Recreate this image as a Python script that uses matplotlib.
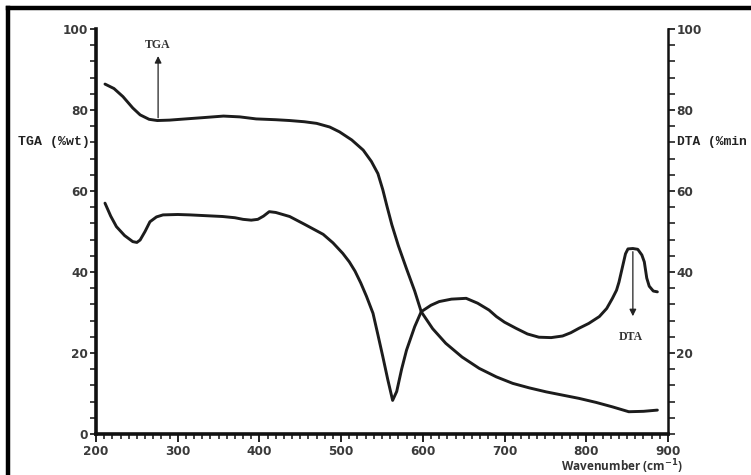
import matplotlib
matplotlib.use("Agg")
import matplotlib.pyplot as plt
from matplotlib.ticker import MultipleLocator, FixedLocator
from matplotlib.lines import Line2D

# ---- data ----
tga_x = [211, 222, 233, 245, 254, 265, 275, 290, 303, 330, 356, 376, 396, 420, 437,
         455, 470, 486, 498, 513, 527, 537, 545, 551, 556, 562, 570, 580, 590, 598, 612,
         628, 648, 669, 690, 710, 730, 751, 771, 791, 812, 832, 852, 870, 887]
tga_y = [86.4, 85.3, 83.3, 80.5, 78.8, 77.7, 77.4, 77.5, 77.7, 78.1, 78.5, 78.3, 77.8, 77.6, 77.4,
         77.1, 76.7, 75.8, 74.6, 72.6, 70.1, 67.3, 64.3, 60.3, 56.3, 51.7, 46.5, 40.8, 35.3, 30.2, 26.0,
         22.4, 19.0, 16.2, 14.1, 12.5, 11.4, 10.4, 9.6, 8.8, 7.8, 6.7, 5.5, 5.6, 5.9]

dta_x = [211, 218, 225, 235, 245, 250, 254, 260, 266, 274, 282, 300, 315, 335, 355,
         370, 380, 390, 398, 405, 412, 420, 437, 455, 478, 490, 502, 510, 517, 524, 531,
         539, 545, 551, 557, 563, 568, 574, 580, 590, 598, 610, 620, 635, 653, 667,
         681, 690, 700, 714, 728, 742, 757, 771, 781, 791, 803, 816, 825, 832, 837,
         840, 844, 848, 851, 857, 863, 868, 871, 874, 877, 882, 887]
dta_y = [57.0, 53.8, 51.2, 49.0, 47.5, 47.3, 47.9, 50.0, 52.4, 53.6, 54.1, 54.2, 54.1, 53.9, 53.7,
         53.4, 53.0, 52.8, 53.0, 53.8, 54.9, 54.7, 53.7, 51.8, 49.3, 47.2, 44.6, 42.5, 40.2, 37.3, 34.0,
         29.8, 24.5, 19.1, 13.5, 8.3, 10.5, 16.0, 20.7, 26.5, 30.2, 31.8, 32.7, 33.3, 33.5, 32.3,
         30.6, 29.0, 27.6, 26.1, 24.7, 23.9, 23.8, 24.2, 25.0, 26.1, 27.3, 29.0, 31.0, 33.5, 35.5,
         37.5, 41.0, 44.5, 45.7, 45.8, 45.6, 44.2, 42.5, 38.5, 36.5, 35.3, 35.1]

x_ticks = [200, 300, 400, 500, 600, 700, 800, 900]
left_ticks = [0, 20, 40, 60, 80, 100]
right_ticks = [20, 40, 60, 80, 100]

W, H = 751, 475
fig = plt.figure(figsize=(W / 100, H / 100), dpi=100)
L, R, B, T = 96, 668, 434, 29
ax = fig.add_axes([L / W, 1 - B / H, (R - L) / W, (B - T) / H])

line_col = "#1c1c1c"
lab_col = "#3a3a3a"
ax.plot(tga_x, tga_y, color=line_col, lw=2.1, solid_capstyle="round", solid_joinstyle="round")
ax.plot(dta_x, dta_y, color=line_col, lw=2.1, solid_capstyle="round", solid_joinstyle="round")

ax.set_xlim(200, 900)
ax.set_ylim(0, 100)

for s in ["top", "right"]:
    ax.spines[s].set_visible(False)
for s in ["left", "bottom"]:
    ax.spines[s].set_linewidth(2.6)
    ax.spines[s].set_color("#111111")

ax.xaxis.set_major_locator(FixedLocator(x_ticks))
ax.xaxis.set_minor_locator(MultipleLocator(10))
ax.yaxis.set_major_locator(FixedLocator(left_ticks))
ax.yaxis.set_minor_locator(MultipleLocator(4))
ax.tick_params(axis="x", which="major", direction="out", length=6, width=1.3,
               pad=2, labelsize=8.7, labelcolor=lab_col, color="#111111")
ax.tick_params(axis="x", which="minor", direction="out", length=3.5, width=1.1, color="#111111")
ax.tick_params(axis="y", which="major", direction="out", length=4, width=1.2,
               pad=1.5, labelsize=8.7, labelcolor=lab_col, color="#111111")
ax.tick_params(axis="y", which="minor", direction="out", length=4, width=1.1, color="#111111")
for lbl in ax.get_xticklabels() + ax.get_yticklabels():
    lbl.set_fontweight("bold")
    lbl.set_family("DejaVu Sans")

ax2 = ax.twinx()
ax2.set_ylim(0, 100)
for s in ["top", "left", "bottom"]:
    ax2.spines[s].set_visible(False)
ax2.spines["right"].set_linewidth(1.8)
ax2.spines["right"].set_color("#111111")
ax2.yaxis.set_major_locator(FixedLocator(right_ticks))
ax2.yaxis.set_minor_locator(MultipleLocator(4))
ax2.tick_params(axis="y", which="major", direction="out", length=5, width=1.2,
                pad=1, labelsize=8.7, labelcolor=lab_col, color="#111111")
ax2.tick_params(axis="y", which="minor", direction="out", length=5, width=1.1, color="#111111")
for lbl in ax2.get_yticklabels():
    lbl.set_fontweight("bold")

# axis-side labels (monospace, placed at the 72 tick)
ax.text(-0.011, 72, "TGA (%wt)", transform=ax.get_yaxis_transform(), ha="right", va="center",
        family="Liberation Mono", fontweight="bold", fontsize=9.5, color="#222222")
ax.text(1.016, 72, "DTA (%min", transform=ax.get_yaxis_transform(), ha="left", va="center",
        family="Liberation Mono", fontweight="bold", fontsize=9.3, color="#222222")

# annotations
ax.annotate("", xy=(276, 94), xytext=(276, 77.4),
            arrowprops=dict(arrowstyle="-|>", color="#222222", lw=0.9, mutation_scale=10))
ax.text(276, 96.0, "TGA", ha="center", va="center", family="Liberation Serif",
        fontweight="bold", fontsize=8.5, color="#333333")
ax.annotate("", xy=(857, 28.4), xytext=(857, 45.7),
            arrowprops=dict(arrowstyle="-|>", color="#222222", lw=0.9, mutation_scale=10))
ax.text(855, 24.0, "DTA", ha="center", va="center", family="Liberation Serif",
        fontweight="bold", fontsize=8.5, color="#333333")

fig.text(622 / W, 1 - 467 / H, r"Wavenumber (cm$^{\mathbf{-1}}$)", ha="center", va="center",
         family="Open Sans", fontweight="bold", fontsize=8.5, color="#333333")

# outer frame (left and top edges visible)
fig.add_artist(Line2D([8 / W, 8 / W], [0, 1 - 8 / H], transform=fig.transFigure,
                      color="black", lw=3.2))
fig.add_artist(Line2D([8 / W, 1], [1 - 8 / H, 1 - 8 / H], transform=fig.transFigure,
                      color="black", lw=3.2))

fig.savefig("out.png", dpi=100)
